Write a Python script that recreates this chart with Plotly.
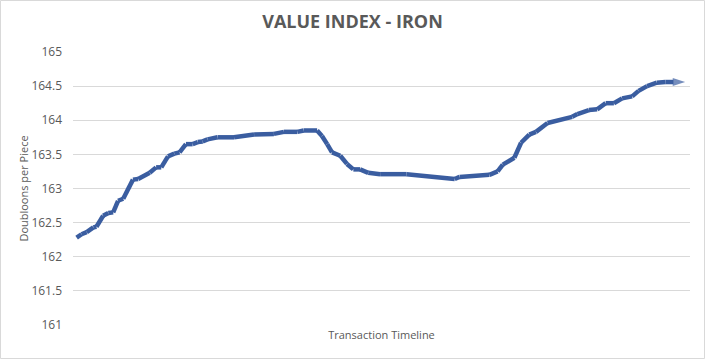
import plotly.graph_objects as go

# Transaction timeline positions (arbitrary time units) and value readings
timeline = [0, 1.6, 3.3, 5.5, 6.5, 8.7, 10.4, 12, 13.6, 15.3, 18.5, 20.2, 24, 26.1, 27.8,
            30, 32.1, 33.8, 35.9, 38.1, 39.8, 41.4, 43, 46.3, 51.7, 58.3, 64.8, 68.1, 72.5,
            74.6, 79, 80.6, 82.3, 83.9, 86.6, 88.8, 90.9, 93.1, 95.8, 99.7, 108.4, 112.7,
            117.1, 121.5, 124.2, 125.8, 130.2, 132.4, 135.6, 138.3, 140, 143.8, 146, 148.7,
            150.9, 154.7, 157.9, 159.6, 162.8, 164.5, 168.3, 171, 173.8, 176.5, 179.2,
            182.5, 184.6, 187.4, 190.6, 193.4, 196.1, 199.9]
value = [162.28, 162.33, 162.36, 162.43, 162.44, 162.60, 162.64, 162.65, 162.82, 162.85,
         163.13, 163.14, 163.23, 163.31, 163.31, 163.47, 163.51, 163.53, 163.65, 163.65,
         163.68, 163.69, 163.72, 163.75, 163.75, 163.79, 163.80, 163.83, 163.83, 163.85,
         163.85, 163.77, 163.65, 163.53, 163.48, 163.36, 163.28, 163.28, 163.23, 163.21,
         163.21, 163.19, 163.17, 163.14, 163.14, 163.17, 163.19, 163.20, 163.20, 163.25,
         163.35, 163.45, 163.67, 163.79, 163.83, 163.96, 163.99, 164.02, 164.05, 164.09,
         164.15, 164.16, 164.25, 164.25, 164.32, 164.35, 164.43, 164.50, 164.55, 164.56,
         164.56, 164.56]
y_ticks = [161, 161.5, 162, 162.5, 163, 163.5, 164, 164.5, 165]

LINE = "#3A5DA0"
n = len(value)
sizes = [0] * (n - 1) + [13]

fig = go.Figure()
fig.add_trace(go.Scatter(
    x=timeline, y=value, mode="lines+markers",
    line=dict(color=LINE, width=4.5),
    marker=dict(symbol="arrow", angleref="previous", size=sizes, color=LINE,
                line=dict(width=0)),
    hoverinfo="skip", showlegend=False,
))

fig.update_layout(
    width=705, height=359,
    margin=dict(l=73, r=15, t=52, b=34),
    paper_bgcolor="white", plot_bgcolor="white",
    font=dict(family="Open Sans, Liberation Sans, sans-serif", color="#595959"),
    title=dict(text="<b>VALUE INDEX - IRON</b>", x=0.5, xanchor="center",
               y=1 - 22 / 359, yanchor="middle",
               font=dict(size=18, color="#595959", family="Open Sans")),
    xaxis=dict(range=[-1.2, 201.5], showticklabels=False, showgrid=False,
               zeroline=False, showline=False, ticks="",
               title=dict(text="Transaction Timeline", font=dict(size=11, color="#595959"),
                          standoff=6)),
    yaxis=dict(range=[161, 165], tickvals=y_ticks, ticktext=[f"{v:g}" for v in y_ticks],
               showgrid=True, gridcolor="#D9D9D9", gridwidth=1, zeroline=False,
               showline=False, ticks="", ticklabelstandoff=10,
               tickfont=dict(size=12, color="#595959"),
               title=dict(text="Doubloons per Piece", font=dict(size=11, color="#595959"),
                          standoff=0)),
    shapes=[dict(type="rect", xref="paper", yref="paper",
                 x0=-72.5 / 617, x1=631.5 / 617, y0=-33.5 / 273, y1=324.5 / 273,
                 line=dict(color="#D9D9D9", width=1), fillcolor="rgba(0,0,0,0)",
                 layer="above")],
)

fig.write_html("out.html", config={"displayModeBar": False},
               post_script="document.body.style.margin='0';")
